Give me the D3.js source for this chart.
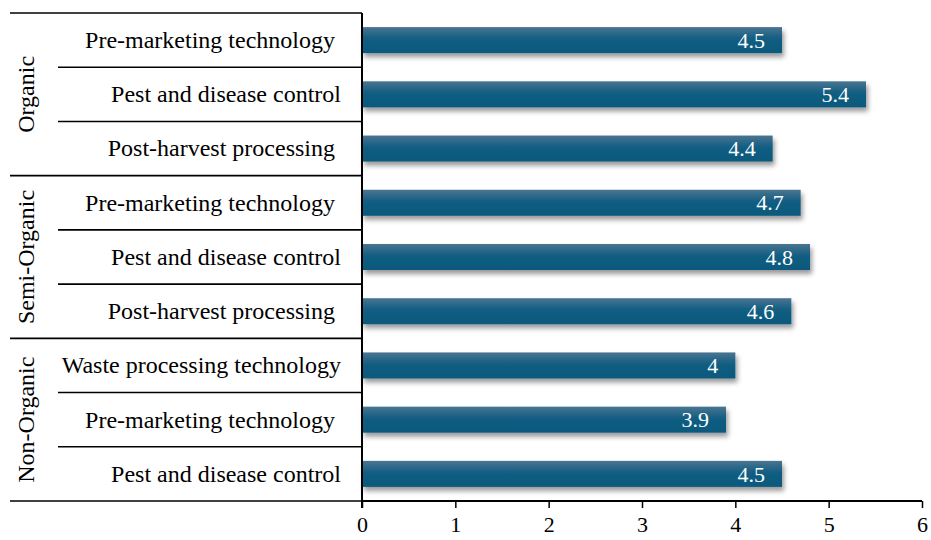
<!DOCTYPE html>
<html>
<head>
<meta charset="utf-8">
<script src="https://cdn.jsdelivr.net/npm/d3@7"></script>
<style>
  body { margin: 0; background: white; }
</style>
</head>
<body>
<div id="chart"></div>
<script>
// groups, categories and values (top to bottom)
const groups = ["Organic", "Semi-Organic", "Non-Organic"];
const groupSizes = [3, 3, 3];
const categories = [
  "Pre-marketing technology ", "Pest and disease control", "Post-harvest processing ",
  "Pre-marketing technology ", "Pest and disease control", "Post-harvest processing ",
  "Waste processing technology", "Pre-marketing technology ", "Pest and disease control"
];
const values = [4.5, 5.4, 4.4, 4.7, 4.8, 4.6, 4, 3.9, 4.5];
const xTicks = [0, 1, 2, 3, 4, 5, 6];

const serif = "Liberation Serif";

let width = 931, height = 540,
    margin = {top: 13, left: 362, right: 9, bottom: 39},
    innerW = width - margin.left - margin.right,
    innerH = height - margin.top - margin.bottom;

let svg = d3.select("#chart")
  .append("svg")
    .attr("width", width)
    .attr("height", height);

let defs = svg.append("defs");
let grad = defs.append("linearGradient")
    .attr("id", "barGrad")
    .attr("x1", 0).attr("y1", 0).attr("x2", 0).attr("y2", 1);
grad.append("stop").attr("offset", "0%").attr("stop-color", "#4a7591");
grad.append("stop").attr("offset", "45%").attr("stop-color", "#125d82");
grad.append("stop").attr("offset", "100%").attr("stop-color", "#0d597e");

let shadow = defs.append("filter")
    .attr("id", "shadow")
    .attr("x", "-5%").attr("y", "-30%").attr("width", "110%").attr("height", "190%");
shadow.append("feDropShadow")
    .attr("dx", 2).attr("dy", 4)
    .attr("stdDeviation", 2.5)
    .attr("flood-color", "#000")
    .attr("flood-opacity", 0.4);

let idx = d3.range(categories.length);

let xScale = d3.scaleLinear()
    .domain([0, 6])
    .range([0, innerW]);

let yScale = d3.scaleBand()
    .domain(idx)
    .range([0, innerH])
    .paddingInner(0.52)
    .paddingOuter(0.26);

let step = yScale.step();

let g = svg.append("g")
    .attr("transform", "translate(" + margin.left + "," + margin.top + ")");

// bars
g.append("g")
  .selectAll(".bar")
  .data(idx)
  .enter()
  .append("rect")
    .attr("class", "bar")
    .attr("x", 0)
    .attr("y", i => yScale(i))
    .attr("width", i => xScale(values[i]))
    .attr("height", yScale.bandwidth())
    .attr("fill", "url(#barGrad)")
    .attr("filter", "url(#shadow)");

// value labels inside bars
g.append("g")
  .selectAll("text")
  .data(idx)
  .enter()
  .append("text")
    .attr("x", i => xScale(values[i]) - 17)
    .attr("y", i => yScale(i) + yScale.bandwidth() / 2)
    .attr("dy", "0.35em")
    .attr("text-anchor", "end")
    .attr("fill", "white")
    .style("font-family", serif)
    .style("font-size", "22px")
    .text(i => values[i]);

// x axis
let xAxis = g.append("g")
    .attr("transform", "translate(0," + innerH + ")")
    .call(d3.axisBottom(xScale).tickValues(xTicks).tickSize(7).tickPadding(8).tickFormat(d3.format("d")));
xAxis.select(".domain").attr("stroke", "#000").attr("stroke-width", 2).attr("d", "M0,0H" + innerW);
xAxis.selectAll(".tick line").attr("stroke", "#000").attr("stroke-width", 1.5);
xAxis.selectAll("text")
    .attr("fill", "#000")
    .style("font-size", "22px")
    .style("font-family", serif);

// y axis line
g.append("line")
    .attr("x1", 0).attr("x2", 0)
    .attr("y1", 0).attr("y2", innerH + 7)
    .attr("stroke", "#000")
    .attr("stroke-width", 2);

// category labels
g.append("g")
  .selectAll("text")
  .data(idx)
  .enter()
  .append("text")
    .attr("x", -21)
    .attr("y", i => yScale(i) + yScale.bandwidth() / 2)
    .attr("dy", "0.33em")
    .attr("text-anchor", "end")
    .style("white-space", "pre")
    .style("font-family", serif)
    .style("font-size", "24px")
    .attr("fill", "#000")
    .text(i => categories[i]);

// separators between categories and groups
let starts = [0];
groupSizes.forEach((n, k) => starts.push(starts[k] + n));

let lines = g.append("g").attr("stroke", "#000");
idx.concat([categories.length]).forEach(i => {
  let isGroupEdge = starts.includes(i);
  lines.append("line")
      .attr("x1", isGroupEdge ? -352 : -304)
      .attr("x2", 0)
      .attr("y1", i * step)
      .attr("y2", i * step)
      .attr("stroke-width", 1.6);
});

// group labels (rotated)
g.append("g")
  .selectAll("text")
  .data(groups)
  .enter()
  .append("text")
    .attr("transform", (d, k) => {
      let cy = (starts[k] + groupSizes[k] / 2) * step;
      return "translate(" + (-336) + "," + cy + ") rotate(-90)";
    })
    .attr("text-anchor", "middle")
    .attr("dy", "0.33em")
    .style("font-family", serif)
    .style("font-size", "24px")
    .attr("fill", "#000")
    .text(d => d);
</script>
</body>
</html>
